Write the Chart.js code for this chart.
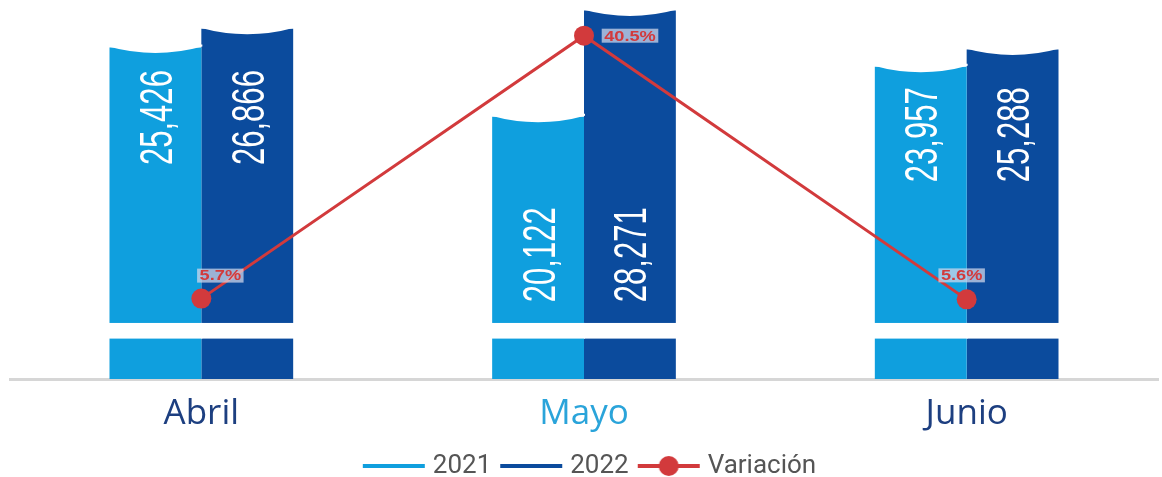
<!DOCTYPE html>
<html>
<head>
<meta charset="utf-8">
<script src="https://cdn.jsdelivr.net/npm/chart.js@4.4.1/dist/chart.umd.min.js"></script>
<style>
  html, body { margin: 0; padding: 0; background: #fff; overflow: hidden; }
  #wrap { width: 1168px; height: 477px; }
</style>
</head>
<body>
<div id="wrap"><canvas id="chart"></canvas></div>
<script>
// Data
const months = ['Abril', 'Mayo', 'Junio'];
const values2021 = [25426, 20122, 23957];
const values2022 = [26866, 28271, 25288];
const variation = [5.7, 40.5, 5.6];
const legendNames = ['2021', '2022', 'Variación'];

// Styles
const LIGHT = '#0f9fde';
const DARK = '#0b4b9d';
const RED = '#d23a3c';
const monthColors = ['#1d3f80', '#2aa4da', '#1d3f80'];

// axis break (white band across the bars), in value units
const BREAK_LOW = 3100;
const BREAK_HIGH = 4300;
// how far below the light bar top the rotated numbers sit, per month
const labelDrop = [70, 138, 68];
const varLabelShift = [[19, -23], [46, 0], [-5, -24]];

function fmt(n) {
    return n.toLocaleString('en-US');
}

// legend marker: 62px line, shifted 5px right inside a 76px canvas
function legendIcon(color, withDot) {
    const c = document.createElement('canvas');
    c.width = 76;
    c.height = 22;
    const g = c.getContext('2d');
    g.fillStyle = color;
    g.fillRect(12, 9, 62, 4);
    if (withDot) {
        g.beginPath();
        g.arc(43, 11, 10, 0, Math.PI * 2);
        g.fill();
    }
    return c;
}

const barDecor = {
    id: 'barDecor',
    afterDatasetDraw(chart, args) {
        if (args.meta.type !== 'bar') return;
        const ctx = chart.ctx;
        const y = chart.scales.y;
        const lightMeta = chart.getDatasetMeta(0);
        const values = args.index === 0 ? values2021 : values2022;
        ctx.save();
        args.meta.data.forEach((bar, i) => {
            const left = bar.x - bar.width / 2;
            const right = bar.x + bar.width / 2;
            // wavy top
            ctx.fillStyle = '#fff';
            ctx.beginPath();
            ctx.moveTo(left - 1, bar.y - 1);
            ctx.quadraticCurveTo(bar.x, bar.y + 12, right + 1, bar.y - 1);
            ctx.lineTo(right + 1, bar.y - 3);
            ctx.lineTo(left - 1, bar.y - 3);
            ctx.closePath();
            ctx.fill();
            // break band
            const yTop = y.getPixelForValue(BREAK_HIGH);
            const yBot = y.getPixelForValue(BREAK_LOW);
            ctx.fillRect(left - 1, yTop, bar.width + 2, yBot - yTop);
            // rotated value
            const cy = lightMeta.data[i].y + labelDrop[i];
            const size = 46;
            ctx.save();
            ctx.translate(bar.x, cy);
            ctx.rotate(-Math.PI / 2);
            ctx.font = size + "px 'Liberation Sans Narrow', 'Arial Narrow', 'Liberation Sans', sans-serif";
            const txt = fmt(values[i]);
            const w = ctx.measureText(txt).width;
            ctx.scale(95 / w, 1);
            ctx.textAlign = 'center';
            ctx.textBaseline = 'alphabetic';
            ctx.fillStyle = '#fff';
            ctx.fillText(txt, 0, size * 0.358);
            ctx.restore();
        });
        ctx.restore();
    },
    afterDatasetsDraw(chart) {
        const ctx = chart.ctx;
        const meta = chart.getDatasetMeta(2);
        ctx.save();
        meta.data.forEach((pt, i) => {
            const txt = variation[i].toFixed(1) + '%';
            ctx.font = "bold 14px 'Liberation Sans', Arial, sans-serif";
            const sx = 1.3;
            const w = ctx.measureText(txt).width * sx + 5;
            const cx = pt.x + varLabelShift[i][0];
            const cy = pt.y + varLabelShift[i][1];
            ctx.fillStyle = 'rgba(212,218,236,0.72)';
            ctx.fillRect(cx - w / 2, cy - 7, w, 14);
            ctx.save();
            ctx.translate(cx, cy);
            ctx.scale(sx, 1);
            ctx.fillStyle = RED;
            ctx.textAlign = 'center';
            ctx.textBaseline = 'middle';
            ctx.fillText(txt, 0, 1);
            ctx.restore();
        });
        ctx.restore();
    }
};

const ctx = document.getElementById('chart');
new Chart(ctx, {
    data: {
        labels: months,
        datasets: [
            {
                type: 'bar',
                label: legendNames[0],
                data: values2021,
                backgroundColor: LIGHT,
                yAxisID: 'y',
                order: 1,
                categoryPercentage: 0.48,
                barPercentage: 1.0,
                borderWidth: 0
            },
            {
                type: 'bar',
                label: legendNames[1],
                data: values2022,
                backgroundColor: DARK,
                yAxisID: 'y',
                order: 1,
                categoryPercentage: 0.48,
                barPercentage: 1.0,
                borderWidth: 0
            },
            {
                type: 'line',
                label: legendNames[2],
                data: variation,
                yAxisID: 'y2',
                borderColor: RED,
                borderWidth: 3,
                pointRadius: 10,
                pointBackgroundColor: RED,
                pointBorderWidth: 0,
                order: 0
            }
        ]
    },
    options: {
        responsive: true,
        maintainAspectRatio: false,
        animation: false,
        layout: {
            padding: { top: 5, left: 6, right: 0, bottom: -12 }
        },
        scales: {
            x: {
                grid: { display: false, drawTicks: false },
                border: { display: true, color: '#d6d6d6', width: 3 },
                ticks: {
                    padding: 14,
                    color: (c) => monthColors[c.index],
                    font: { family: 'Open Sans', size: 35 }
                }
            },
            y: { display: false, min: 0, max: 28310 },
            y2: { display: false, min: -4.94, max: 43.9 }
        },
        plugins: {
            tooltip: { enabled: false },
            legend: {
                position: 'bottom',
                labels: {
                    usePointStyle: true,
                    pointStyleWidth: 62,
                    boxHeight: 22,
                    padding: 4,
                    color: '#555',
                    font: { family: 'Roboto', size: 26 },
                    generateLabels: () => legendNames.map((name, i) => ({
                        text: name,
                        pointStyle: legendIcon([LIGHT, DARK, RED][i], i === 2),
                        fillStyle: [LIGHT, DARK, RED][i],
                        strokeStyle: [LIGHT, DARK, RED][i],
                        lineWidth: 0,
                        hidden: false,
                        datasetIndex: i,
                        fontColor: '#555'
                    }))
                }
            }
        }
    },
    plugins: [barDecor]
});
</script>
</body>
</html>
